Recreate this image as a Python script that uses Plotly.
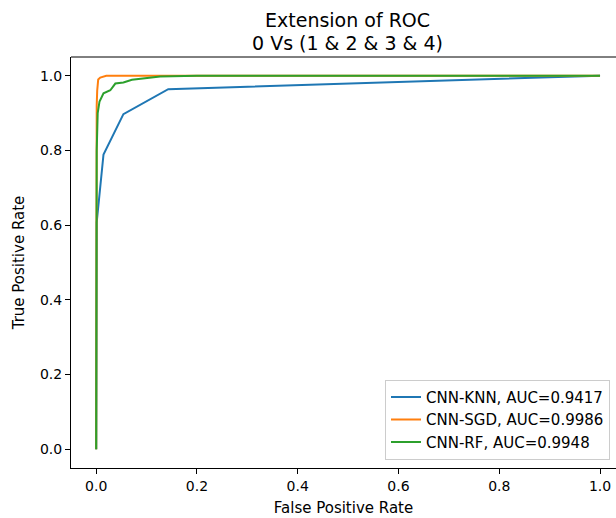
import plotly.graph_objects as go

knn_fpr = [0.0, 0.0, 0.001, 0.0145, 0.054, 0.143, 1.0]
knn_tpr = [0.0, 0.45, 0.607, 0.789, 0.897, 0.964, 1.0]

sgd_fpr = [0.0, 0.0, 0.001, 0.002, 0.004, 0.008, 0.02, 1.0]
sgd_tpr = [0.0, 0.85, 0.92, 0.96, 0.99, 0.995, 1.0, 1.0]

rf_fpr = [0.0, 0.0, 0.001, 0.003, 0.0066, 0.0145, 0.028, 0.038, 0.054, 0.071, 0.10, 0.127, 0.2, 1.0]
rf_tpr = [0.0, 0.6, 0.8, 0.9, 0.931, 0.953, 0.961, 0.979, 0.982, 0.989, 0.994, 0.998, 1.0, 1.0]

labels = ["CNN-KNN, AUC=0.9417", "CNN-SGD, AUC=0.9986", "CNN-RF, AUC=0.9948"]
colors = ["#1f77b4", "#ff7f0e", "#2ca02c"]
tick_vals = [0.0, 0.2, 0.4, 0.6, 0.8, 1.0]
title_lines = ["Extension of ROC", "0 Vs (1 & 2 & 3 & 4)"]

font = "DejaVu Sans, sans-serif"
fig = go.Figure()
for fx, fy, lab, col in zip([knn_fpr, sgd_fpr, rf_fpr], [knn_tpr, sgd_tpr, rf_tpr], labels, colors):
    fig.add_trace(go.Scatter(x=fx, y=fy, mode="lines", name=lab,
                             line=dict(color=col, width=2)))

fig.update_layout(
    width=616, height=518, autosize=False,
    margin=dict(l=71, r=0, t=57, b=50),
    paper_bgcolor="white", plot_bgcolor="white",
    font=dict(family=font, size=14, color="black"),
    xaxis=dict(range=[-0.05, 1.0317], tickvals=tick_vals, tickformat=".1f",
               showgrid=False, zeroline=False, showline=True, linecolor="black", linewidth=1,
               ticks="outside", ticklen=5, tickcolor="black", tickfont=dict(size=14),
               title=dict(text="False Positive Rate", standoff=9, font=dict(size=15))),
    yaxis=dict(range=[-0.05, 1.05], tickvals=tick_vals, tickformat=".1f",
               showgrid=False, zeroline=False, showline=True, linecolor="black", linewidth=1,
               ticks="outside", ticklen=5, tickcolor="black", tickfont=dict(size=14),
               title=dict(text="True Positive Rate", standoff=11, font=dict(size=15))),
    legend=dict(x=0.989, xanchor="right", y=0.02, yanchor="bottom",
                bgcolor="rgba(255,255,255,0.8)", bordercolor="#cccccc", borderwidth=1,
                font=dict(size=15), tracegroupgap=0),
    showlegend=True,
)
for txt, ypix in zip(title_lines, [20, 43]):
    fig.add_annotation(text=txt, xref="paper", yref="paper", x=0.508, y=(468 - ypix) / 411,
                       xanchor="center", yanchor="middle", showarrow=False,
                       font=dict(size=19, family=font, color="black"))
fig.add_shape(type="line", xref="paper", yref="paper", x0=0, x1=1, y0=1, y1=1,
              line=dict(color="black", width=1))
fig.write_html("out.html", config={"displayModeBar": False},
               post_script="document.body.style.margin='0';document.body.style.overflow='hidden';")
